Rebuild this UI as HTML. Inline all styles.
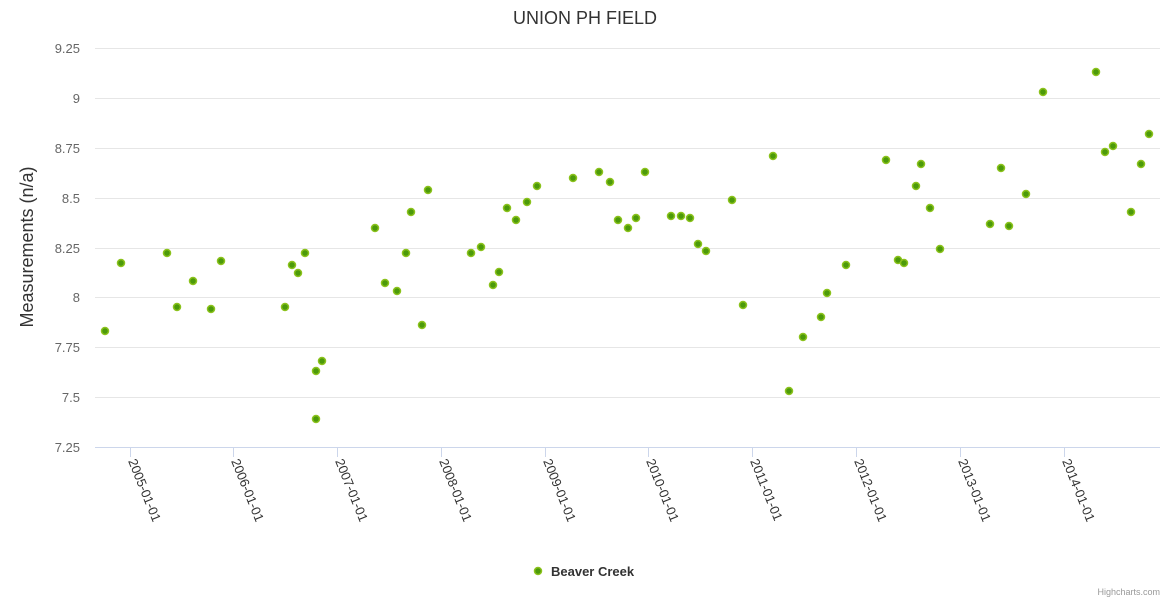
<!DOCTYPE html>
<html><head><meta charset="utf-8"><style>
html,body{margin:0;padding:0;background:#fff;}
svg{display:block;font-family:"Liberation Sans",sans-serif;}
</style></head><body>
<svg width="1170" height="600" xmlns="http://www.w3.org/2000/svg">
<rect width="1170" height="600" fill="#fff"/>
<text x="585" y="24" text-anchor="middle" font-size="18" fill="#333">UNION PH FIELD</text>
<g stroke="#e6e6e6" stroke-width="1">
<line x1="95" x2="1160" y1="48.5" y2="48.5"/><line x1="95" x2="1160" y1="98.5" y2="98.5"/>
<line x1="95" x2="1160" y1="148.5" y2="148.5"/><line x1="95" x2="1160" y1="198.5" y2="198.5"/>
<line x1="95" x2="1160" y1="248.5" y2="248.5"/><line x1="95" x2="1160" y1="297.5" y2="297.5"/>
<line x1="95" x2="1160" y1="347.5" y2="347.5"/><line x1="95" x2="1160" y1="397.5" y2="397.5"/>
</g>
<line x1="95" x2="1160" y1="447.5" y2="447.5" stroke="#ccd6eb"/>
<g font-size="13" fill="#666" text-anchor="end">
<text x="80" y="53">9.25</text><text x="80" y="103">9</text><text x="80" y="153">8.75</text>
<text x="80" y="203">8.5</text><text x="80" y="253">8.25</text><text x="80" y="302">8</text>
<text x="80" y="352">7.75</text><text x="80" y="402">7.5</text><text x="80" y="452">7.25</text>
</g>
<text transform="translate(33,247) rotate(-90)" text-anchor="middle" font-size="18" fill="#333">Measurements (n/a)</text>
<g stroke="#ccd6eb">
<line x1="130.5" x2="130.5" y1="447" y2="457"/><line x1="233.5" x2="233.5" y1="447" y2="457"/>
<line x1="337.5" x2="337.5" y1="447" y2="457"/><line x1="441.5" x2="441.5" y1="447" y2="457"/>
<line x1="545.5" x2="545.5" y1="447" y2="457"/><line x1="648.5" x2="648.5" y1="447" y2="457"/>
<line x1="752.5" x2="752.5" y1="447" y2="457"/><line x1="856.5" x2="856.5" y1="447" y2="457"/>
<line x1="960.5" x2="960.5" y1="447" y2="457"/><line x1="1064.5" x2="1064.5" y1="447" y2="457"/>
</g>
<g font-size="13" fill="#333">
<text transform="translate(128,461) rotate(68)">2005-01-01</text>
<text transform="translate(231,461) rotate(68)">2006-01-01</text>
<text transform="translate(335,461) rotate(68)">2007-01-01</text>
<text transform="translate(439,461) rotate(68)">2008-01-01</text>
<text transform="translate(543,461) rotate(68)">2009-01-01</text>
<text transform="translate(646,461) rotate(68)">2010-01-01</text>
<text transform="translate(750,461) rotate(68)">2011-01-01</text>
<text transform="translate(854,461) rotate(68)">2012-01-01</text>
<text transform="translate(958,461) rotate(68)">2013-01-01</text>
<text transform="translate(1062,461) rotate(68)">2014-01-01</text>
</g>
<g fill="#4c9a0a" stroke="#8bc21c" stroke-width="1.5">
<circle cx="105" cy="331" r="3.5"/><circle cx="121" cy="263" r="3.5"/><circle cx="167" cy="253" r="3.5"/>
<circle cx="177" cy="307" r="3.5"/><circle cx="193" cy="281" r="3.5"/><circle cx="211" cy="309" r="3.5"/>
<circle cx="221" cy="261" r="3.5"/><circle cx="285" cy="307" r="3.5"/><circle cx="292" cy="265" r="3.5"/>
<circle cx="298" cy="273" r="3.5"/><circle cx="305" cy="253" r="3.5"/><circle cx="316" cy="371" r="3.5"/>
<circle cx="316" cy="419" r="3.5"/><circle cx="322" cy="361" r="3.5"/><circle cx="375" cy="228" r="3.5"/>
<circle cx="385" cy="283" r="3.5"/><circle cx="397" cy="291" r="3.5"/><circle cx="406" cy="253" r="3.5"/>
<circle cx="411" cy="212" r="3.5"/><circle cx="422" cy="325" r="3.5"/><circle cx="428" cy="190" r="3.5"/>
<circle cx="471" cy="253" r="3.5"/><circle cx="481" cy="247" r="3.5"/><circle cx="493" cy="285" r="3.5"/>
<circle cx="499" cy="272" r="3.5"/><circle cx="507" cy="208" r="3.5"/><circle cx="516" cy="220" r="3.5"/>
<circle cx="527" cy="202" r="3.5"/><circle cx="537" cy="186" r="3.5"/><circle cx="573" cy="178" r="3.5"/>
<circle cx="599" cy="172" r="3.5"/><circle cx="610" cy="182" r="3.5"/><circle cx="618" cy="220" r="3.5"/>
<circle cx="628" cy="228" r="3.5"/><circle cx="636" cy="218" r="3.5"/><circle cx="645" cy="172" r="3.5"/>
<circle cx="671" cy="216" r="3.5"/><circle cx="681" cy="216" r="3.5"/><circle cx="690" cy="218" r="3.5"/>
<circle cx="698" cy="244" r="3.5"/><circle cx="706" cy="251" r="3.5"/><circle cx="732" cy="200" r="3.5"/>
<circle cx="743" cy="305" r="3.5"/><circle cx="773" cy="156" r="3.5"/><circle cx="789" cy="391" r="3.5"/>
<circle cx="803" cy="337" r="3.5"/><circle cx="821" cy="317" r="3.5"/><circle cx="827" cy="293" r="3.5"/>
<circle cx="846" cy="265" r="3.5"/><circle cx="886" cy="160" r="3.5"/><circle cx="898" cy="260" r="3.5"/>
<circle cx="904" cy="263" r="3.5"/><circle cx="916" cy="186" r="3.5"/><circle cx="921" cy="164" r="3.5"/>
<circle cx="930" cy="208" r="3.5"/><circle cx="940" cy="249" r="3.5"/><circle cx="990" cy="224" r="3.5"/>
<circle cx="1001" cy="168" r="3.5"/><circle cx="1009" cy="226" r="3.5"/><circle cx="1026" cy="194" r="3.5"/>
<circle cx="1043" cy="92" r="3.5"/><circle cx="1096" cy="72" r="3.5"/><circle cx="1105" cy="152" r="3.5"/>
<circle cx="1113" cy="146" r="3.5"/><circle cx="1131" cy="212" r="3.5"/><circle cx="1141" cy="164" r="3.5"/>
<circle cx="1149" cy="134" r="3.5"/>
<circle cx="538" cy="571" r="3.5"/>
</g>
<text x="551" y="576" font-size="13" font-weight="bold" fill="#333">Beaver Creek</text>
<text x="1160" y="595" text-anchor="end" font-size="9" fill="#999">Highcharts.com</text>
</svg>
</body></html>
